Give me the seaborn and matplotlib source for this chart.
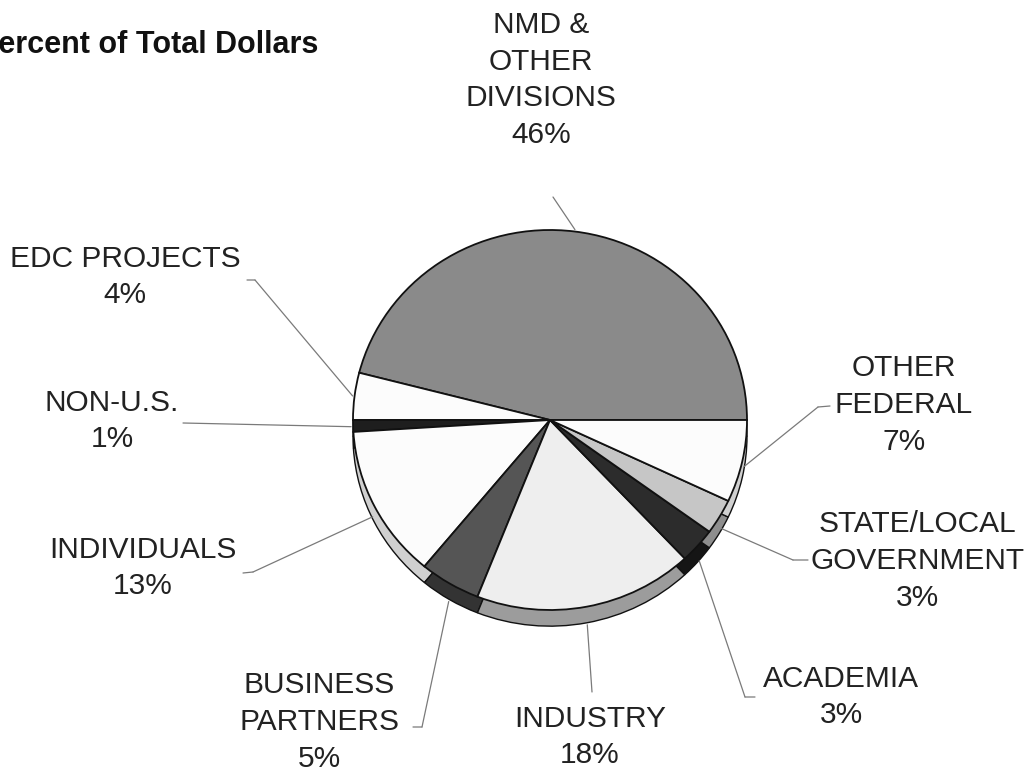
import matplotlib.pyplot as plt
import seaborn as sns
import numpy as np

# ---------------------------------------------------------------
# Data
# ---------------------------------------------------------------
sources = ['NMD &\nOTHER\nDIVISIONS', 'EDC PROJECTS', 'NON-U.S.', 'INDIVIDUALS',
           'BUSINESS\nPARTNERS', 'INDUSTRY', 'ACADEMIA',
           'STATE/LOCAL\nGOVERNMENT', 'OTHER\nFEDERAL']
percents = [46, 4, 1, 13, 5, 18, 3, 3, 7]

face_colors = ['#8a8a8a', '#fcfcfc', '#1e1e1e', '#fcfcfc', '#555555',
               '#eeeeee', '#2c2c2c', '#c6c6c6', '#fcfcfc']
side_colors = ['#5a5a5a', '#d8d8d8', '#111111', '#d0d0d0', '#333333',
               '#9c9c9c', '#151515', '#8e8e8e', '#d0d0d0']

# label layout in image pixels (from the top-left corner)
label_pos = [(541, 80), (125, 277), (112, 421), (143, 568), (319, 722),
             (590, 737), (841, 697), (917, 561), (904, 405)]
leader_knee = [(553, 197), (255, 280), (183, 423), (253, 572), (422, 727),
               (592, 692), (745, 697), (793, 560), (818, 407)]
leader_end = [None, (247, 280), None, (243, 573), (413, 727),
              None, (755, 697), (808, 560), (830, 406)]

W, H = 1028, 777

sns.set_theme(style='white')
plt.rcParams['font.family'] = ['Liberation Sans', 'DejaVu Sans']

fig = plt.figure(figsize=(W / 100, H / 100), dpi=100)
fig.patch.set_facecolor('white')

# the pie face occupies x 353..747, y 230..610 px
ax = fig.add_axes([353 / W, (H - 610) / H, 394 / W, 380 / H])

rim = 0.085
# side of the "3D" pie, drawn a little lower and behind the face
side, _ = ax.pie(percents, colors=side_colors, startangle=0, counterclock=True,
                 center=(0, -rim),
                 wedgeprops={'edgecolor': '#111111', 'linewidth': 1.0, 'clip_on': False})
wedges, _ = ax.pie(percents, colors=face_colors, startangle=0, counterclock=True,
                   wedgeprops={'edgecolor': '#111111', 'linewidth': 1.3, 'clip_on': False})
ax.set_aspect('auto')
ax.set_xlim(-1, 1)
ax.set_ylim(-1, 1)
ax.axis('off')


def px(pt):
    return (pt[0], H - pt[1])


line_kw = dict(arrowstyle='-', color='#7a7a7a', lw=0.9, shrinkA=0, shrinkB=0)

for name, pct, w, pos, knee, end in zip(sources, percents, wedges,
                                         label_pos, leader_knee, leader_end):
    mid = np.deg2rad((w.theta1 + w.theta2) / 2)
    ex, ey = np.cos(mid), np.sin(mid)
    if ey < 0:
        ey -= rim * min(1.0, -ey * 1.3)
    ax.annotate('', xy=(ex * 1.01, ey * 1.01), xycoords='data',
                xytext=px(knee), textcoords='figure pixels',
                arrowprops=line_kw, annotation_clip=False)
    if end is not None:
        ax.annotate('', xy=px(knee), xycoords='figure pixels',
                    xytext=px(end), textcoords='figure pixels',
                    arrowprops=line_kw, annotation_clip=False)
    fig.text(pos[0] / W, 1 - pos[1] / H, f'{name}\n{pct}%',
             ha='center', va='center', multialignment='center',
             fontsize=21.5, color='#222222', linespacing=1.4)

fig.text(-22 / W, 1 - 53 / H, 'Percent of Total Dollars', ha='left',
         va='baseline', fontsize=22, fontweight='bold', color='#111111')

fig.savefig('out.png', dpi=100, facecolor='white')
